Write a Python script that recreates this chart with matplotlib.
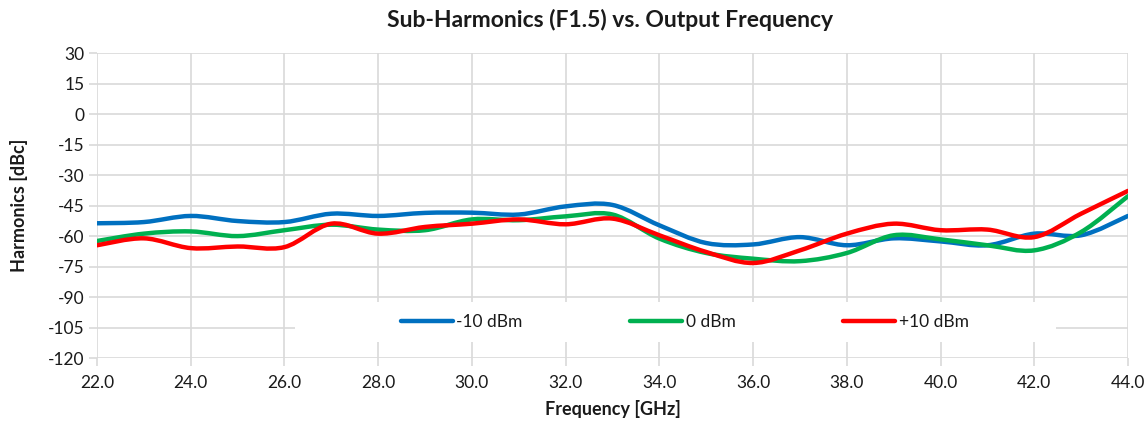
import matplotlib
matplotlib.use('Agg')
import matplotlib.pyplot as plt
from matplotlib.path import Path
from matplotlib.patches import PathPatch, Rectangle
from matplotlib.lines import Line2D

plt.rcParams['font.family'] = ['Lato', 'DejaVu Sans']
plt.rcParams['axes.unicode_minus'] = False

# Output frequency [GHz]
freq = [22, 23, 24, 25, 26, 27, 28, 29, 30, 31, 32, 33,
        34, 35, 36, 37, 38, 39, 40, 41, 42, 43, 44]

# Sub-harmonics [dBc] per input power
neg10_dbm = [-53.6, -53.0, -50.0, -52.5, -53.0, -48.9, -50.0, -48.5, -48.4, -49.3, -45.3, -44.6,
             -54.6, -63.3, -64.0, -60.4, -64.4, -61.0, -62.5, -64.4, -58.7, -59.5, -50.0]
zero_dbm = [-62.3, -58.7, -57.6, -59.9, -57.0, -54.3, -56.7, -57.0, -51.7, -52.1, -50.2, -49.3,
            -61.1, -68.2, -71.0, -72.2, -68.2, -59.5, -61.5, -64.4, -66.9, -57.9, -40.3]
pos10_dbm = [-64.4, -61.0, -65.8, -65.0, -65.3, -53.8, -58.7, -55.4, -53.8, -51.7, -54.1, -51.3,
             -59.5, -67.7, -73.1, -66.9, -58.7, -53.8, -57.0, -56.7, -60.4, -48.9, -37.7]

series = [('-10 dBm', neg10_dbm, '#0070C0'),
          ('0 dBm', zero_dbm, '#00B050'),
          ('+10 dBm', pos10_dbm, '#FF0000')]

x_ticks = [22, 24, 26, 28, 30, 32, 34, 36, 38, 40, 42, 44]
y_ticks = [-120, -105, -90, -75, -60, -45, -30, -15, 0, 15, 30]


def smooth_path(xs, ys):
    # Excel-style smoothed line: cubic Bezier segments through each point
    n = len(xs)
    verts = [(xs[0], ys[0])]
    codes = [Path.MOVETO]
    for i in range(n - 1):
        x0, y0 = xs[max(i - 1, 0)], ys[max(i - 1, 0)]
        x1, y1 = xs[i], ys[i]
        x2, y2 = xs[i + 1], ys[i + 1]
        x3, y3 = xs[min(i + 2, n - 1)], ys[min(i + 2, n - 1)]
        c1 = (x1 + (x2 - x0) / 6, y1 + (y2 - y0) / 6)
        c2 = (x2 - (x3 - x1) / 6, y2 - (y3 - y1) / 6)
        verts += [c1, c2, (x2, y2)]
        codes += [Path.CURVE4] * 3
    return Path(verts, codes)


fig = plt.figure(figsize=(11.47, 4.21), dpi=100)
ax = fig.add_axes([0.0846, 0.1485, 0.8988, 0.7255])

grid_color = '#d9d9d9'
text_color = '#1a1a1a'

handles = []
for label, vals, color in series:
    patch = PathPatch(smooth_path(freq, vals), facecolor='none', edgecolor=color,
                      lw=3.2, capstyle='round', joinstyle='round', zorder=3)
    ax.add_patch(patch)
    handles.append(Line2D([], [], color=color, lw=3.2, solid_capstyle='round', label=label))

ax.set_xlim(22, 44)
ax.set_ylim(-120, 30)
ax.set_xticks(x_ticks)
ax.set_xticklabels([f'{t:.1f}' for t in x_ticks])
ax.set_yticks(y_ticks)

ax.grid(True, color=grid_color, lw=1.2, zorder=0)
ax.set_axisbelow(True)
for s in ax.spines.values():
    s.set_visible(False)
ax.tick_params(axis='both', color=grid_color, length=6, width=1.2,
               labelsize=12.5, labelcolor=text_color)
ax.tick_params(axis='y', pad=3)
ax.tick_params(axis='x', pad=6)

# white legend area covering the grid
ax.add_patch(Rectangle((0.192, 0.054), 0.738, 0.131, transform=ax.transAxes,
                       facecolor='white', edgecolor='none', zorder=2))
leg = ax.legend(handles=handles, loc='center', bbox_to_anchor=(0.57, 0.119), ncol=3,
                frameon=False, fontsize=12.5, handlelength=3.0, handletextpad=0.2,
                columnspacing=6.2, borderpad=0, borderaxespad=0)
leg.set_zorder(4)
for t in leg.get_texts():
    t.set_color(text_color)

fig.text(0.532, 1 - 20 / 421, 'Sub-Harmonics (F1.5) vs. Output Frequency', fontsize=16.5,
         fontweight='bold', color=text_color, ha='center', va='center')
ax.set_xlabel('Frequency [GHz]', fontsize=13, fontweight='bold', color=text_color)
ax.set_ylabel('Harmonics [dBc]', fontsize=13, fontweight='bold', color=text_color)
ax.xaxis.set_label_coords(0.5, -0.165)
ax.xaxis.label.set_va('center')
ax.yaxis.set_label_coords(-0.0757, 0.5)
ax.yaxis.label.set_va('center')

fig.savefig('out.png', dpi=100)
